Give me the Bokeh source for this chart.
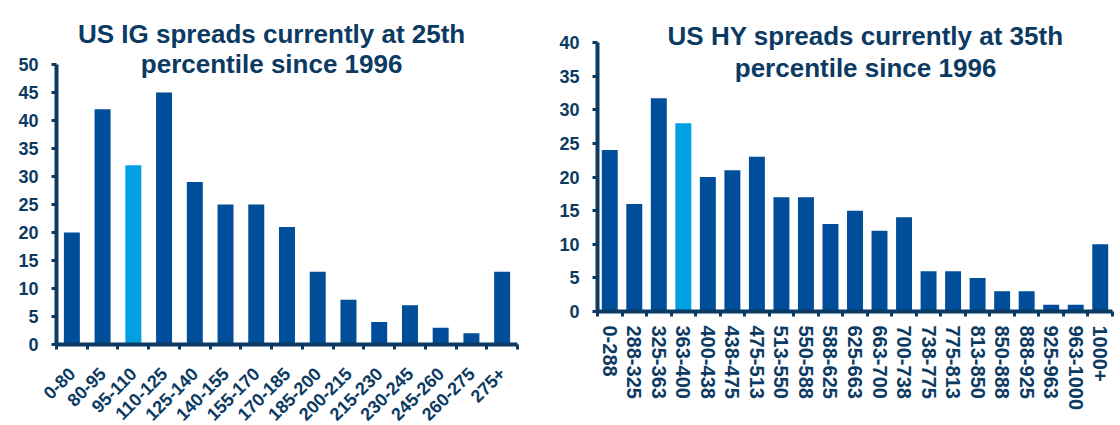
import math
from bokeh.plotting import figure
from bokeh.models import ColumnDataSource, Range1d, FixedTicker, Label
from bokeh.layouts import row
from bokeh.embed import file_html
from bokeh.resources import INLINE

# ---- data ----
ig_cats = ["0-80", "80-95", "95-110", "110-125", "125-140", "140-155", "155-170",
           "170-185", "185-200", "200-215", "215-230", "230-245", "245-260",
           "260-275", "275+"]
ig_vals = [20, 42, 32, 45, 29, 25, 25, 21, 13, 8, 4, 7, 3, 2, 13]
ig_current = "95-110"
ig_yticks = [0, 5, 10, 15, 20, 25, 30, 35, 40, 45, 50]
ig_title = ["US IG spreads currently at 25th", "percentile since 1996"]

hy_cats = ["0-288", "288-325", "325-363", "363-400", "400-438", "438-475", "475-513",
           "513-550", "550-588", "588-625", "625-663", "663-700", "700-738",
           "738-775", "775-813", "813-850", "850-888", "888-925", "925-963",
           "963-1000", "1000+"]
hy_vals = [24, 16, 31.7, 28, 20, 21, 23, 17, 17, 13, 15, 12, 14, 6, 6, 5, 3, 3, 1, 1, 10]
hy_current = "363-400"
hy_yticks = [0, 5, 10, 15, 20, 25, 30, 35, 40]
hy_title = ["US HY spreads currently at 35th", "percentile since 1996"]

NAVY = "#0B3A62"
DARK = "#004D99"
LIGHT = "#00A0E2"
FONT = "Liberation Sans"
BOTTOM = 114  # shared bottom border (row aligns borders)


def make(cats, vals, current, yticks, title, width, frame_bottom, bl, br, ytop,
         xorient, xfont, tx, ty1, ty2, barw, xstand):
    n = len(cats)
    xs = list(range(n))
    colors = [LIGHT if c == current else DARK for c in cats]
    src = ColumnDataSource(dict(x=xs, top=vals, color=colors, cat=cats))
    p = figure(width=width, height=frame_bottom + BOTTOM,
               x_range=Range1d(-0.5, n - 0.5),
               y_range=Range1d(yticks[0], ytop),
               output_backend="svg", toolbar_location=None,
               min_border_left=bl, min_border_right=br,
               min_border_top=0, min_border_bottom=BOTTOM)
    p.vbar(x="x", top="top", width=barw, fill_color="color", line_color=None, source=src)
    p.grid.visible = False
    p.outline_line_color = None
    p.background_fill_color = "white"
    p.border_fill_color = "white"

    xa = p.xaxis[0]
    xa.ticker = FixedTicker(ticks=xs, minor_ticks=[i - 0.5 for i in range(n + 1)])
    xa.major_label_overrides = {i: c for i, c in zip(xs, cats)}
    xa.major_tick_line_color = None
    xa.minor_tick_in = 0
    xa.minor_tick_out = 5
    xa.minor_tick_line_width = 3
    xa.minor_tick_line_color = NAVY
    xa.axis_line_color = NAVY
    xa.axis_line_width = 4
    xa.major_label_orientation = xorient
    xa.major_label_text_font = FONT
    xa.major_label_text_font_style = "bold"
    xa.major_label_text_font_size = xfont
    xa.major_label_text_color = NAVY
    xa.major_label_standoff = xstand

    ya = p.yaxis[0]
    ya.ticker = FixedTicker(ticks=yticks, minor_ticks=[])
    ya.bounds = (yticks[0], yticks[-1])
    ya.major_tick_in = 0
    ya.major_tick_out = 5
    ya.major_tick_line_width = 3
    ya.major_tick_line_color = NAVY
    ya.axis_line_color = NAVY
    ya.axis_line_width = 4
    ya.major_label_text_font = FONT
    ya.major_label_text_font_style = "bold"
    ya.major_label_text_font_size = "18px"
    ya.major_label_text_color = NAVY
    ya.major_label_standoff = 13

    for txt, ty in zip(title, [ty1, ty2]):
        p.add_layout(Label(x=tx, y=ty, text=txt, text_align="center",
                           text_baseline="alphabetic", text_font=FONT,
                           text_font_style="bold", text_font_size="26px",
                           text_color=NAVY))
    return p


# left: frame x 56..517, y 0..344 (50 at 64 px)
p1 = make(ig_cats, ig_vals, ig_current, ig_yticks, ig_title, 556, 344,
          56, 39, 344 / 5.6, math.pi / 4, "18px", 6.5, 55.45, 50.1, 0.52, 20)
# right: frame x 597..1112, y 0..311 (40 at 42 px)
p2 = make(hy_cats, hy_vals, hy_current, hy_yticks, hy_title, 564, 311,
          41, 8, 311 / 6.725, "vertical", "20px", 10.43, 41.0, 36.2, 0.65, 8)

layout = row(p1, p2)
open("out.html", "w").write(file_html(layout, INLINE))
